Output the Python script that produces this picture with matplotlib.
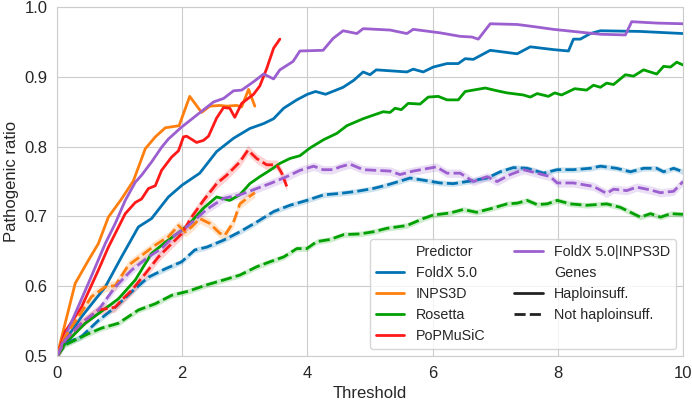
import numpy as np
import matplotlib
matplotlib.use("Agg")
import matplotlib.pyplot as plt
from matplotlib.lines import Line2D
import seaborn as sns

# Daten: Haploinsuff. (durchgezogen)
foldx_h_x = [0, 0.13, 0.39, 0.77, 1.03, 1.30, 1.51, 1.78, 2.0, 2.28, 2.55, 2.82, 3.08, 3.30, 3.46, 3.62,
             3.83, 4.0, 4.13, 4.29, 4.57, 4.74, 4.89, 5.0, 5.1, 5.59, 5.69, 5.85, 6.01, 6.23, 6.41, 6.52,
             6.65, 6.92, 7.35, 7.56, 7.93, 8.17, 8.25, 8.36, 8.52, 8.68, 9.32, 10.0]
foldx_h_y = [0.5, 0.523, 0.556, 0.599, 0.642, 0.685, 0.697, 0.728, 0.745, 0.762, 0.793, 0.812, 0.826, 0.833,
             0.840, 0.855, 0.867, 0.875, 0.879, 0.875, 0.885, 0.895, 0.907, 0.903, 0.910, 0.907, 0.911, 0.907,
             0.914, 0.919, 0.919, 0.926, 0.925, 0.938, 0.933, 0.943, 0.939, 0.937, 0.954, 0.954, 0.962, 0.966,
             0.965, 0.962]

inps_h_x = [0, 0.13, 0.29, 0.5, 0.66, 0.82, 1.03, 1.22, 1.41, 1.57, 1.73, 1.95, 2.12, 2.31, 2.44, 2.6,
            2.71, 2.87, 2.95, 3.06, 3.16]
inps_h_y = [0.5, 0.547, 0.604, 0.637, 0.661, 0.699, 0.725, 0.751, 0.797, 0.814, 0.827, 0.83, 0.872, 0.849,
            0.858, 0.859, 0.858, 0.859, 0.857, 0.882, 0.858]

ros_h_x = [0, 0.13, 0.45, 0.77, 0.98, 1.25, 1.51, 1.73, 1.99, 2.12, 2.34, 2.55, 2.76, 2.92, 3.08, 3.24,
           3.40, 3.56, 3.72, 3.88, 4.04, 4.26, 4.47, 4.63, 4.89, 5.21, 5.32, 5.4, 5.5, 5.61, 5.8, 5.93,
           6.09, 6.23, 6.41, 6.52, 6.65, 6.84, 7.03, 7.19, 7.45, 7.56, 7.67, 7.85, 7.95, 8.06, 8.27, 8.46,
           8.57, 8.68, 8.78, 8.89, 9.08, 9.21, 9.37, 9.58, 9.69, 9.8, 9.9, 10.0]
ros_h_y = [0.5, 0.518, 0.547, 0.568, 0.582, 0.609, 0.647, 0.663, 0.68, 0.69, 0.712, 0.728, 0.723, 0.731,
           0.747, 0.757, 0.766, 0.776, 0.783, 0.787, 0.798, 0.81, 0.819, 0.83, 0.840, 0.850, 0.849, 0.855,
           0.853, 0.862, 0.861, 0.871, 0.872, 0.867, 0.867, 0.879, 0.881, 0.884, 0.880, 0.877, 0.874, 0.871,
           0.876, 0.872, 0.877, 0.874, 0.883, 0.881, 0.888, 0.885, 0.891, 0.889, 0.903, 0.901, 0.910, 0.904,
           0.915, 0.914, 0.921, 0.917]

pop_h_x = [0, 0.13, 0.39, 0.66, 0.82, 1.09, 1.25, 1.35, 1.46, 1.57, 1.67, 1.83, 1.94, 2.02, 2.07, 2.23,
           2.34, 2.42, 2.55, 2.66, 2.76, 2.84, 2.95, 3.14, 3.24, 3.35, 3.46, 3.56]
pop_h_y = [0.5, 0.535, 0.570, 0.623, 0.656, 0.704, 0.72, 0.725, 0.74, 0.744, 0.766, 0.785, 0.794, 0.814,
           0.815, 0.806, 0.809, 0.815, 0.841, 0.856, 0.855, 0.842, 0.862, 0.875, 0.887, 0.912, 0.941, 0.954]

comb_h_x = [0, 0.13, 0.5, 0.77, 0.93, 1.09, 1.25, 1.35, 1.51, 1.67, 1.78, 1.99, 2.23, 2.50, 2.66, 2.82,
            2.95, 3.14, 3.30, 3.46, 3.56, 3.77, 3.88, 4.25, 4.41, 4.57, 4.79, 4.89, 5.32, 5.59, 5.69, 6.12,
            6.44, 6.63, 6.73, 6.92, 7.35, 7.61, 7.93, 8.25, 8.68, 9.08, 9.18, 9.58, 10.0]
comb_h_y = [0.5, 0.528, 0.604, 0.661, 0.69, 0.723, 0.749, 0.759, 0.778, 0.799, 0.811, 0.828, 0.845, 0.864,
            0.869, 0.88, 0.881, 0.893, 0.904, 0.897, 0.91, 0.922, 0.937, 0.938, 0.955, 0.966, 0.962, 0.969,
            0.967, 0.962, 0.968, 0.963, 0.958, 0.957, 0.954, 0.976, 0.975, 0.972, 0.968, 0.965, 0.961, 0.96,
            0.979, 0.977, 0.976]

# Daten: Not haploinsuff. (gestrichelt)
foldx_n_x = [0, 0.13, 0.39, 0.66, 0.93, 1.19, 1.46, 1.73, 1.99, 2.2, 2.39, 2.66, 2.92, 3.19, 3.46, 3.72,
             3.99, 4.26, 4.52, 4.79, 5.05, 5.27, 5.64, 5.85, 6.12, 6.33, 6.55, 6.87, 7.08, 7.29, 7.51, 7.77,
             7.99, 8.25, 8.52, 8.68, 8.94, 9.16, 9.37, 9.58, 9.69, 9.85, 10.0]
foldx_n_y = [0.5, 0.518, 0.528, 0.551, 0.570, 0.592, 0.613, 0.625, 0.635, 0.652, 0.656, 0.666, 0.678, 0.692,
             0.707, 0.716, 0.723, 0.731, 0.733, 0.736, 0.740, 0.745, 0.755, 0.752, 0.748, 0.747, 0.750, 0.755,
             0.764, 0.770, 0.769, 0.762, 0.767, 0.767, 0.769, 0.772, 0.769, 0.764, 0.769, 0.769, 0.764, 0.769,
             0.764]

inps_n_x = [0, 0.13, 0.34, 0.55, 0.77, 0.93, 1.14, 1.35, 1.57, 1.78, 1.94, 2.05, 2.15, 2.28, 2.44, 2.6,
            2.68, 2.82, 2.92, 3.08, 3.16]
inps_n_y = [0.5, 0.528, 0.556, 0.585, 0.599, 0.601, 0.63, 0.644, 0.659, 0.671, 0.687, 0.678, 0.685, 0.697,
            0.690, 0.676, 0.673, 0.692, 0.718, 0.729, 0.734]

ros_n_x = [0, 0.13, 0.29, 0.5, 0.71, 0.98, 1.30, 1.57, 1.83, 2.1, 2.39, 2.66, 2.92, 3.19, 3.40, 3.62,
           3.83, 3.99, 4.15, 4.36, 4.58, 4.84, 5.05, 5.27, 5.59, 5.85, 6.01, 6.28, 6.49, 6.7, 6.92, 7.19,
           7.35, 7.51, 7.67, 7.83, 7.99, 8.2, 8.46, 8.78, 9.0, 9.16, 9.32, 9.48, 9.64, 9.8, 10.0]
ros_n_y = [0.5, 0.516, 0.523, 0.532, 0.540, 0.547, 0.566, 0.575, 0.587, 0.593, 0.602, 0.609, 0.616, 0.628,
           0.635, 0.642, 0.654, 0.654, 0.664, 0.667, 0.674, 0.675, 0.678, 0.683, 0.687, 0.697, 0.702, 0.705,
           0.71, 0.706, 0.711, 0.718, 0.719, 0.723, 0.717, 0.718, 0.723, 0.718, 0.716, 0.718, 0.713, 0.706,
           0.699, 0.704, 0.699, 0.704, 0.703]

pop_n_x = [0, 0.13, 0.39, 0.66, 0.93, 1.03, 1.19, 1.41, 1.62, 1.83, 1.99, 2.15, 2.34, 2.55, 2.71, 2.92,
           3.05, 3.19, 3.35, 3.51, 3.59, 3.67]
pop_n_y = [0.5, 0.523, 0.547, 0.566, 0.57, 0.58, 0.594, 0.618, 0.642, 0.661, 0.675, 0.699, 0.723, 0.747,
           0.759, 0.778, 0.795, 0.783, 0.774, 0.774, 0.762, 0.743]

comb_n_x = [0, 0.13, 0.39, 0.66, 0.93, 1.19, 1.46, 1.67, 1.88, 2.1, 2.39, 2.66, 2.92, 3.19, 3.40, 3.67,
            3.88, 4.1, 4.25, 4.41, 4.52, 4.68, 4.89, 5.32, 5.48, 5.69, 6.06, 6.23, 6.44, 6.65, 6.87, 7.03,
            7.24, 7.45, 7.67, 7.88, 7.99, 8.25, 8.57, 8.78, 8.89, 9.1, 9.26, 9.48, 9.64, 9.85, 10.0]
comb_n_y = [0.5, 0.523, 0.547, 0.566, 0.599, 0.623, 0.642, 0.654, 0.673, 0.687, 0.71, 0.726, 0.731, 0.740,
            0.747, 0.757, 0.766, 0.772, 0.767, 0.767, 0.771, 0.775, 0.767, 0.765, 0.76, 0.765, 0.771, 0.762,
            0.762, 0.75, 0.757, 0.75, 0.76, 0.767, 0.762, 0.757, 0.748, 0.748, 0.743, 0.733, 0.739, 0.737,
            0.742, 0.738, 0.734, 0.736, 0.75]

# ungefaehre halbe Breite der Konfidenzbaender (nur gestrichelt sichtbar)
ci_n = [0.004, 0.007, 0.004, 0.007, 0.006]

predictors = ["FoldX 5.0", "INPS3D", "Rosetta", "PoPMuSiC", "FoldX 5.0|INPS3D"]
colors = ["#0173b2", "#ff7f0e", "#00a000", "#ff1a1a", "#9b5fcf"]
haplo = [(foldx_h_x, foldx_h_y), (inps_h_x, inps_h_y), (ros_h_x, ros_h_y),
         (pop_h_x, pop_h_y), (comb_h_x, comb_h_y)]
not_haplo = [(foldx_n_x, foldx_n_y), (inps_n_x, inps_n_y), (ros_n_x, ros_n_y),
             (pop_n_x, pop_n_y), (comb_n_x, comb_n_y)]

sns.set_style("whitegrid")
plt.rcParams["font.family"] = ["Liberation Sans", "DejaVu Sans"]

fig, ax = plt.subplots(figsize=(6.92, 4.01), dpi=100)
fig.subplots_adjust(left=0.0824, right=0.987, bottom=0.112, top=0.9825)

for (x, y), c in zip(haplo, colors):
    ax.plot(x, y, color=c, lw=2)

for (x, y), c, ci in zip(not_haplo, colors, ci_n):
    y = np.array(y)
    ax.fill_between(x, y - ci, y + ci, color=c, alpha=0.2, lw=0)
    ax.plot(x, y, color=c, lw=2, dashes=(4, 1.5))

ax.set_xlim(0, 10)
ax.set_ylim(0.5, 1.0)
ax.set_xticks([0, 2, 4, 6, 8, 10])
ax.set_yticks([0.5, 0.6, 0.7, 0.8, 0.9, 1.0])
ax.tick_params(labelsize=12)
ax.set_xlabel("Threshold", fontsize=12)
ax.set_ylabel("Pathogenic ratio", fontsize=12)

# Legende im seaborn-Stil
blank = Line2D([], [], color="none")
handles = [blank] + [Line2D([], [], color=c, lw=2) for c in colors] + [
    blank,
    Line2D([], [], color="#222222", lw=2),
    Line2D([], [], color="#222222", lw=2, dashes=(4, 1.5)),
]
labels = ["Predictor"] + predictors + ["Genes", "Haploinsuff.", "Not haploinsuff."]
ax.legend(handles, labels, loc="lower right", ncol=2, fontsize=10.3, frameon=True)

fig.savefig("out.png", dpi=100)
